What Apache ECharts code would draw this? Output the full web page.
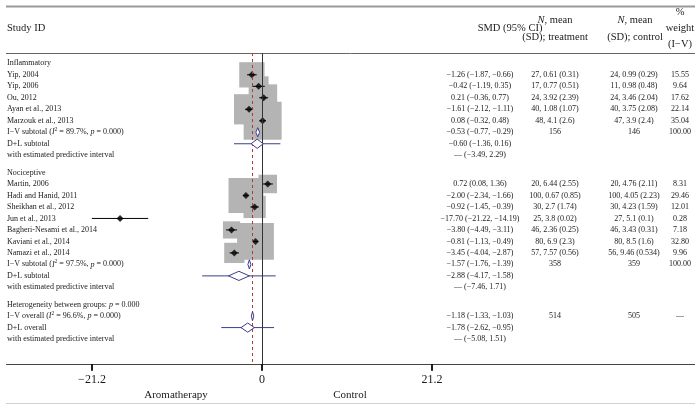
<!DOCTYPE html>
<html><head><meta charset="utf-8">
<script src="https://cdn.jsdelivr.net/npm/echarts@6/dist/echarts.min.js"></script>
<style>html,body{margin:0;padding:0;background:#fff}#c{width:695px;height:409px}</style>
</head><body><div id="c"></div>
<script>
// ---------- DATA ----------
const inflName = 'Inflammatory';
const inflStudies = ['Yip, 2004', 'Yip, 2006', 'Ou, 2012', 'Ayan et al., 2013', 'Marzouk et al., 2013'];
const inflSMD = [-1.26, -0.42, 0.21, -1.61, 0.08];
const inflLo = [-1.87, -1.19, -0.36, -2.12, -0.32];
const inflHi = [-0.66, 0.35, 0.77, -1.11, 0.48];
const inflWeight = [15.55, 9.64, 17.62, 22.14, 35.04];
const inflTreat = ['27, 0.61 (0.31)', '17, 0.77 (0.51)', '24, 3.92 (2.39)', '40, 1.08 (1.07)', '48, 4.1 (2.6)'];
const inflCtrl = ['24, 0.99 (0.29)', '11, 0.98 (0.48)', '24, 3.46 (2.04)', '40, 3.75 (2.08)', '47, 3.9 (2.4)'];
const inflIV = [-0.53, -0.77, -0.29];
const inflIVN = ['156', '146', '100.00'];
const inflI2 = '89.7%';
const inflDL = [-0.60, -1.36, 0.16];
const inflPI = [-3.49, 2.29];

const nociName = 'Nociceptive';
const nociStudies = ['Martin, 2006', 'Hadi and Hanid, 2011', 'Sheikhan et al., 2012', 'Jun et al., 2013', 'Bagheri-Nesami et al., 2014', 'Kaviani et al., 2014', 'Namazi et al., 2014'];
const nociSMD = [0.72, -2.00, -0.92, -17.70, -3.80, -0.81, -3.45];
const nociLo = [0.08, -2.34, -1.45, -21.22, -4.49, -1.13, -4.04];
const nociHi = [1.36, -1.66, -0.39, -14.19, -3.11, -0.49, -2.87];
const nociWeight = [8.31, 29.46, 12.01, 0.28, 7.18, 32.80, 9.96];
const nociTreat = ['20, 6.44 (2.55)', '100, 0.67 (0.85)', '30, 2.7 (1.74)', '25, 3.8 (0.02)', '46, 2.36 (0.25)', '80, 6.9 (2.3)', '57, 7.57 (0.56)'];
const nociCtrl = ['20, 4.76 (2.11)', '100, 4.05 (2.23)', '30, 4.23 (1.59)', '27, 5.1 (0.1)', '46, 3.43 (0.31)', '80, 8.5 (1.6)', '56, 9.46 (0.534)'];
const nociIV = [-1.57, -1.76, -1.39];
const nociIVN = ['358', '359', '100.00'];
const nociI2 = '97.5%';
const nociDL = [-2.88, -4.17, -1.58];
const nociPI = [-7.46, 1.71];

const hetP = '0.000';
const overallIV = [-1.18, -1.33, -1.03];
const overallIVN = ['514', '505', '—'];
const overallI2 = '96.6%';
const overallDL = [-1.78, -2.62, -0.95];
const overallPI = [-5.08, 1.51];

const xTicks = [-21.2, 0, 21.2];
const refLine = overallIV[0];

// ---------- BUILD ROWS ----------
const M = '\u2212';
const fmt = v => (v < 0 ? M : '') + Math.abs(v).toFixed(2);
const ci = (e, l, h) => fmt(e) + ' (' + fmt(l) + ', ' + fmt(h) + ')';
const rows = [];
let p = 0;
function add(r) { r.pos = p; rows.push(r); p += 1; }
const groups = [
  {name: inflName, st: inflStudies, e: inflSMD, lo: inflLo, hi: inflHi, w: inflWeight, t: inflTreat, c: inflCtrl, iv: inflIV, ivn: inflIVN, i2: inflI2, dl: inflDL, pi: inflPI},
  {name: nociName, st: nociStudies, e: nociSMD, lo: nociLo, hi: nociHi, w: nociWeight, t: nociTreat, c: nociCtrl, iv: nociIV, ivn: nociIVN, i2: nociI2, dl: nociDL, pi: nociPI}
];
groups.forEach((g, gi) => {
  if (gi > 0) p += 0.5;
  add({label: g.name});
  g.st.forEach((s, i) => add({label: s, kind: 'study', e: g.e[i], lo: g.lo[i], hi: g.hi[i], w: g.w[i],
    smd: ci(g.e[i], g.lo[i], g.hi[i]), t: g.t[i], c: g.c[i], wt: g.w[i].toFixed(2)}));
  add({label: 'I\u2212V subtotal ({i|I}{s|2} = ' + g.i2 + ', {i|p} = 0.000)', kind: 'iv', e: g.iv[0], lo: g.iv[1], hi: g.iv[2],
    smd: ci(g.iv[0], g.iv[1], g.iv[2]), t: g.ivn[0], c: g.ivn[1], wt: g.ivn[2]});
  add({label: 'D+L subtotal', kind: 'dl', e: g.dl[0], lo: g.dl[1], hi: g.dl[2], pLo: g.pi[0], pHi: g.pi[1],
    smd: ci(g.dl[0], g.dl[1], g.dl[2])});
  add({label: 'with estimated predictive interval', smd: '— (' + fmt(g.pi[0]) + ', ' + fmt(g.pi[1]) + ')'});
});
p += 0.5;
add({label: 'Heterogeneity between groups: {i|p} = ' + hetP});
add({label: 'I\u2212V overall ({i|I}{s|2} = ' + overallI2 + ', {i|p} = 0.000)', kind: 'iv', e: overallIV[0], lo: overallIV[1], hi: overallIV[2],
  smd: ci(overallIV[0], overallIV[1], overallIV[2]), t: overallIVN[0], c: overallIVN[1], wt: overallIVN[2]});
add({label: 'D+L overall', kind: 'dl', e: overallDL[0], lo: overallDL[1], hi: overallDL[2], pLo: overallPI[0], pHi: overallPI[1],
  smd: ci(overallDL[0], overallDL[1], overallDL[2])});
add({label: 'with estimated predictive interval', smd: '— (' + fmt(overallPI[0]) + ', ' + fmt(overallPI[1]) + ')'});

// ---------- STYLE ----------
const FONT = '"Liberation Serif", "Times New Roman", serif';
const TXT = '#1a1a1a';
const NAVY = '#3c3c8c';
const FS = 8;
const HS = 10.5;
const YMIN = -0.9, YMAX = 26.17;
const RICH = {
  i: {fontStyle: 'italic', fontSize: FS, fontFamily: FONT, fill: TXT, color: TXT},
  s: {fontSize: 5.5, fontFamily: FONT, fill: TXT, color: TXT, verticalAlign: 'top', lineHeight: 11}
};
const RICHH = {
  i: {fontStyle: 'italic', fontSize: HS, fontFamily: FONT, fill: TXT, color: TXT}
};
const COL = {smd: 480, t: 555, c: 634, wt: 680, label: 7};

const studies = rows.filter(r => r.kind === 'study');
const ivRows = rows.filter(r => r.kind === 'iv');
const dlRows = rows.filter(r => r.kind === 'dl');
const pooled = ivRows.concat(dlRows);

const chart = echarts.init(document.getElementById('c'));
const hline = (y, x1, x2, color, w) => ({type: 'line', silent: true, shape: {x1, y1: y, x2, y2: y}, style: {stroke: color, lineWidth: w}});
const htext = (text, x, y, align, size, rich) => ({type: 'text', silent: true, x, y,
  style: {text, fill: TXT, fontSize: size, fontFamily: FONT, align, verticalAlign: 'middle', rich: rich}});

const graphics = [
  hline(6.5, 6, 695, '#9a9a9a', 2),
  hline(53.5, 6, 695, '#666', 1),
  hline(364.5, 6, 695, '#444', 1),
  hline(403.5, 6, 695, '#d0d0d0', 1),
  htext('Study ID', 7, 28, 'left', HS),
  htext('SMD (95% CI)', 510, 28, 'center', HS),
  htext('{i|N}, mean', 555, 20, 'center', HS, RICHH),
  htext('(SD); treatment', 555, 37, 'center', HS),
  htext('{i|N}, mean', 635, 20, 'center', HS, RICHH),
  htext('(SD); control', 635, 37, 'center', HS),
  htext('%', 680, 12, 'center', HS),
  htext('weight', 680, 28, 'center', HS),
  htext('(I\u2212V)', 680, 44, 'center', HS),
  htext('Aromatherapy', 176, 395, 'center', 11),
  htext('Control', 350, 395, 'center', 11)
];

chart.setOption({
  animation: false,
  backgroundColor: '#fff',
  grid: {left: 92, right: 263, top: 53, bottom: 45, containLabel: false},
  xAxis: {
    type: 'value', min: -21.2, max: 21.2, interval: 21.2,
    axisLine: {show: true, onZero: false, lineStyle: {color: '#444', width: 1}}, splitLine: {show: false},
    axisTick: {show: true, inside: false, length: 6, lineStyle: {color: '#111', width: 1.5}},
    axisLabel: {margin: 10, fontSize: 12, fontFamily: FONT, color: TXT,
      formatter: v => (v < 0 ? M : '') + (v === 0 ? '0' : Math.abs(v).toFixed(1))}
  },
  yAxis: {type: 'value', inverse: true, min: YMIN, max: YMAX, show: false},
  graphic: graphics,
  series: [
    { // weight boxes
      type: 'custom', silent: true, z: 1, clip: false,
      data: studies.map(r => [r.e, r.pos, r.w]),
      renderItem: (params, api) => {
        const c = api.coord([api.value(0), api.value(1)]);
        const s = 6.42 * Math.sqrt(api.value(2));
        return {type: 'rect', shape: {x: c[0] - s / 2, y: c[1] - s / 2, width: s, height: s}, style: {fill: '#b4b4b4'}};
      }
    },
    { // confidence intervals
      type: 'custom', silent: true, z: 3, clip: false,
      data: studies.map(r => [r.lo, r.pos, r.hi]),
      renderItem: (params, api) => {
        const a = api.coord([api.value(0), api.value(1)]);
        const b = api.coord([api.value(2), api.value(1)]);
        return {type: 'line', shape: {x1: a[0], y1: a[1], x2: b[0], y2: b[1]}, style: {stroke: '#000', lineWidth: 1}};
      }
    },
    { // point estimates
      type: 'scatter', silent: true, z: 4, symbol: 'diamond', symbolSize: 7,
      itemStyle: {color: '#000'},
      data: studies.map(r => [r.e, r.pos])
    },
    { // predictive intervals
      type: 'custom', silent: true, z: 3, clip: false,
      data: dlRows.map(r => [r.pLo, r.pos, r.pHi]),
      renderItem: (params, api) => {
        const a = api.coord([api.value(0), api.value(1)]);
        const b = api.coord([api.value(2), api.value(1)]);
        return {type: 'line', shape: {x1: a[0], y1: a[1], x2: b[0], y2: b[1]}, style: {stroke: NAVY, lineWidth: 1}};
      }
    },
    { // pooled diamonds
      type: 'custom', silent: true, z: 5, clip: false,
      data: pooled.map(r => [r.e, r.pos, r.lo, r.hi]),
      renderItem: (params, api) => {
        const c = api.coord([api.value(0), api.value(1)]);
        const l = api.coord([api.value(2), api.value(1)]);
        const h = api.coord([api.value(3), api.value(1)]);
        const hh = 4.6;
        return {type: 'polygon', shape: {points: [[l[0], c[1]], [c[0], c[1] - hh], [h[0], c[1]], [c[0], c[1] + hh]]},
          style: {fill: '#fff', stroke: NAVY, lineWidth: 1}};
      }
    },
    { // reference lines
      type: 'scatter', silent: true, z: 6, data: [],
      markLine: {
        silent: true, symbol: 'none', label: {show: false}, animation: false,
        data: [
          {xAxis: 0, lineStyle: {color: '#333', width: 1, type: 'solid'}},
          {xAxis: refLine, lineStyle: {color: '#b03a3a', width: 1, type: [3, 3]}}
        ]
      }
    },
    { // table text
      type: 'custom', silent: true, z: 10, clip: false,
      data: rows.map((r, i) => [0, r.pos, i]),
      renderItem: (params, api) => {
        const r = rows[api.value(2)];
        const y = api.coord([0, api.value(1)])[1];
        const ch = [];
        const t = (text, x, align) => ch.push({type: 'text', x: x, y: y,
          style: {text: text, fill: TXT, fontSize: FS, fontFamily: FONT, align: align, verticalAlign: 'middle', rich: RICH}});
        if (r.label) t(r.label, COL.label, 'left');
        if (r.smd) t(r.smd, COL.smd, 'center');
        if (r.t) t(r.t, COL.t, 'center');
        if (r.c) t(r.c, COL.c, 'center');
        if (r.wt) t(r.wt, COL.wt, 'center');
        return {type: 'group', children: ch};
      }
    }
  ]
});

// explicit tick marks positioned through the axis scale
const tickEls = xTicks.map((v, i) => {
  const c = chart.convertToPixel({gridIndex: 0}, [v, YMAX]);
  const x = Math.round(c[0]);
  return {type: 'rect', id: 'tick' + i, silent: true, z: 50,
    shape: {x: x - 0.75, y: Math.round(c[1]), width: 1.5, height: 7}, style: {fill: '#111'}};
});
chart.setOption({graphic: graphics.concat(tickEls)});
</script>
</body></html>
